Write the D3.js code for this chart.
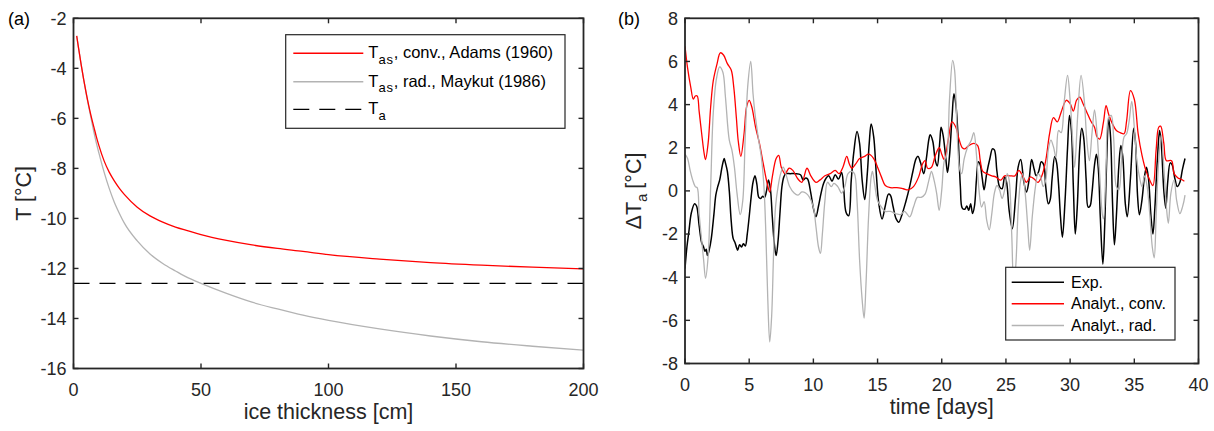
<!DOCTYPE html>
<html><head><meta charset="utf-8">
<script src="https://cdn.jsdelivr.net/npm/d3@7"></script>
<style>
body{margin:0;background:#fff}
svg{display:block}
text{font-family:"Liberation Sans",Arial,Helvetica,sans-serif}
</style>
</head><body>
<svg id="c" width="1214" height="431"></svg>
<script>
// ---------- Panel (a) data ----------
const thickness = [1.25, 2, 3, 4, 5, 6, 7, 8, 9, 10, 12, 14, 16, 18, 20, 25, 30, 35, 40, 45, 50, 60, 70, 80, 90, 100, 120, 140, 160, 180, 200];
const tasConv = [-2.7, -3.2, -3.85, -4.45, -5.0, -5.5, -5.95, -6.35, -6.75, -7.1, -7.7, -8.15, -8.5, -8.8, -9.05, -9.55, -9.9, -10.15, -10.35, -10.5, -10.65, -10.88, -11.06, -11.2, -11.32, -11.45, -11.63, -11.77, -11.87, -11.95, -12.02];
const tasRad = [-2.7, -3.2, -3.85, -4.45, -5.02, -5.55, -6.05, -6.55, -7.0, -7.4, -8.15, -8.8, -9.35, -9.8, -10.2, -10.9, -11.42, -11.8, -12.1, -12.38, -12.6, -13.0, -13.35, -13.62, -13.87, -14.08, -14.42, -14.7, -14.93, -15.11, -15.27];
const taThickness = [0, 200];
const taValue = [-12.6, -12.6];
const xTicksA = [0, 50, 100, 150, 200];
const yTicksA = [-16, -14, -12, -10, -8, -6, -4, -2];

// ---------- Panel (b) data ----------
const expTime = [0,0.15,0.3,0.5,0.75,0.9,1.1,1.3,1.45,1.55,1.65,1.75,1.9,2.05,2.25,2.4,2.55,2.7,2.85,2.95,3.05,3.15,3.3,3.45,3.6,3.75,3.9,4.0,4.1,4.25,4.4,4.55,4.7,4.85,5.0,5.15,5.3,5.45,5.6,5.75,5.9,6.05,6.2,6.35,6.5,6.65,6.8,6.95,7.1,7.25,7.4,7.55,7.7,7.85,8.2,8.6,9.0,9.2,9.4,9.55,9.8,10.0,10.2,10.4,10.6,10.8,11.0,11.2,11.45,11.7,11.95,12.2,12.35,12.55,12.75,12.95,13.15,13.4,13.6,13.8,14.0,14.2,14.35,14.5,14.7,14.9,15.1,15.35,15.6,15.85,16.0,16.2,16.45,16.65,16.9,17.2,17.5,17.75,18.0,18.15,18.35,18.6,18.8,19.0,19.1,19.3,19.5,19.65,19.85,19.95,20.1,20.3,20.45,20.6,20.8,20.95,21.1,21.3,21.45,21.6,21.8,21.95,22.1,22.25,22.4,22.55,22.7,22.85,23.0,23.15,23.3,23.5,23.75,23.95,24.1,24.3,24.5,24.7,24.9,25.05,25.25,25.5,25.75,25.95,26.15,26.4,26.6,26.8,27.0,27.2,27.35,27.55,27.75,27.95,28.1,28.3,28.45,28.6,28.8,28.95,29.1,29.25,29.4,29.6,29.8,29.95,30.1,30.25,30.4,30.55,30.75,30.9,31.05,31.25,31.4,31.55,31.7,31.9,32.05,32.2,32.35,32.55,32.7,32.85,33.0,33.15,33.3,33.45,33.6,33.8,33.95,34.1,34.3,34.45,34.7,34.95,35.1,35.25,35.4,35.6,35.8,35.95,36.1,36.3,36.45,36.6,36.8,36.97,37.1,37.3,37.45,37.6,37.8,37.95,38.15,38.35,38.55,38.75,38.95];
const expDelta = [-3.6,-2.6,-1.9,-1.0,-0.6,-0.7,-1.6,-2.4,-2.6,-2.8,-2.7,-3.0,-2.7,-2.2,-1.1,-0.2,0.2,0.5,1.0,1.3,1.5,1.3,0.9,0.0,-1.4,-2.2,-2.4,-2.6,-2.75,-2.5,-2.6,-2.45,-2.55,-2.0,-1.2,-0.3,0.4,0.7,0.3,-0.3,-0.35,-0.25,-0.3,0.0,0.5,0.1,-1.2,-2.4,-3.0,-2.3,-1.0,0.2,0.65,0.8,0.8,0.8,0.75,0.5,0.6,0.55,-0.1,-0.8,-1.2,-0.7,-0.1,0.35,0.6,0.7,0.45,0.75,0.55,0.85,0.2,-1.0,-1.15,0.5,1.8,2.75,2.2,0.5,-0.4,0.8,2.2,3.1,2.5,0.8,-0.6,-1.3,-0.7,-0.15,-0.2,-0.7,-1.3,-1.45,-1.1,-0.5,0.2,0.9,1.5,1.6,1.3,0.8,1.5,2.4,2.6,2.3,1.4,1.15,2.3,2.95,2.6,1.6,0.85,1.6,3.4,4.5,4.0,2.2,0.2,-0.8,-0.85,-0.7,-0.9,-0.6,-1.05,-0.7,0.5,1.35,1.2,0.6,0.05,0.8,1.5,1.95,1.9,0.9,0.2,0.1,0.65,0.4,-0.9,-1.75,-0.3,1.1,1.45,0.4,-0.05,0.5,1.45,1.0,0.7,0.9,1.35,1.2,0.2,-0.6,-0.4,0.6,1.6,1.3,0.3,-1.2,-2.15,-0.5,2.0,3.5,2.8,0.2,-2.0,-0.8,2.0,2.9,2.5,0.5,-0.75,-0.7,-0.1,1.2,1.7,1.0,-1.2,-3.4,-1.5,1.5,3.35,2.5,-0.5,-2.5,-1.2,1.2,2.1,1.6,-0.6,-1.2,0.6,2.9,2.2,-0.2,-1.1,-0.4,0.7,1.1,0.6,-1.2,-2.0,-0.8,1.5,2.8,2.2,0.0,-0.8,0.4,1.3,1.2,0.6,0.2,0.4,1.0,1.5];

const convTime = [0,0.2,0.45,0.65,0.8,0.95,1.1,1.3,1.5,1.6,1.8,2.0,2.2,2.5,2.75,3.0,3.3,3.6,3.8,4.0,4.15,4.35,4.6,4.8,5.0,5.2,5.5,5.8,6.1,6.4,6.6,6.8,7.1,7.3,7.5,7.8,8.1,8.4,8.8,9.1,9.5,9.8,10.2,10.5,10.9,11.3,11.7,12.0,12.3,12.6,12.8,13.0,13.3,13.6,14.0,14.3,14.7,15.0,15.3,15.6,16.0,16.5,17.0,17.4,17.8,18.2,18.5,18.7,18.9,19.2,19.5,19.8,20.0,20.2,20.5,20.8,21.1,21.3,21.6,21.8,22.1,22.5,22.8,23.0,23.2,23.5,23.9,24.2,24.6,24.9,25.3,25.7,26.0,26.3,26.6,26.9,27.2,27.5,27.8,28.1,28.4,28.7,29.0,29.3,29.7,30.0,30.25,30.5,30.75,31.0,31.3,31.6,31.9,32.1,32.3,32.6,32.8,33.0,33.3,33.6,33.9,34.2,34.4,34.7,35.0,35.3,35.6,35.9,36.2,36.45,36.7,36.9,37.05,37.3,37.5,37.9,38.1,38.4,38.6,38.9];
const convDelta = [6.7,5.7,4.8,4.25,4.4,4.4,3.7,2.65,1.7,1.45,2.2,3.9,5.1,5.9,6.4,6.3,5.9,5.6,4.8,3.4,2.3,1.6,2.65,3.9,4.2,3.9,2.95,2.2,1.25,0.35,-0.05,0.65,1.5,1.65,1.1,0.8,1.05,0.95,0.55,0.4,1.05,0.7,0.4,0.5,0.7,0.8,0.95,0.8,1.1,1.6,1.25,1.05,1.25,1.5,1.6,1.7,1.5,1.1,0.65,0.25,0.15,0.15,0.1,0.05,0.2,0.65,1.25,1.4,1.05,1.1,1.65,2.0,1.7,1.45,2.35,3.2,2.95,2.5,2.0,1.95,2.1,2.2,2.1,1.4,0.9,0.8,0.7,0.65,0.5,0.7,0.7,0.7,0.95,0.7,0.4,0.65,0.55,0.4,0.7,1.4,2.65,3.4,3.2,3.65,4.2,4.05,3.7,4.2,4.35,4.05,3.65,3.25,2.95,2.5,2.4,3.2,3.95,3.55,3.1,2.8,2.7,2.65,3.25,4.65,4.25,2.65,1.65,0.95,0.5,0.25,1.9,2.95,3.0,2.2,1.4,1.4,0.8,0.6,0.55,0.45];

const radTime = [0,0.2,0.4,0.6,0.8,0.95,1.1,1.3,1.45,1.6,1.8,2.0,2.2,2.45,2.7,2.95,3.15,3.45,3.65,3.85,4.05,4.3,4.5,4.7,4.9,5.12,5.3,5.45,5.7,5.95,6.15,6.3,6.45,6.6,6.75,6.9,7.05,7.25,7.45,7.65,7.85,8.15,8.5,8.8,9.1,9.4,9.7,10.0,10.2,10.4,10.55,10.7,10.9,11.1,11.4,11.6,11.9,12.2,12.45,12.7,13.0,13.2,13.4,13.6,13.8,13.95,14.1,14.3,14.5,14.6,14.8,15.0,15.3,15.6,16.0,16.4,16.8,17.1,17.5,17.8,18.1,18.4,18.7,19.0,19.2,19.4,19.6,19.8,20.0,20.2,20.4,20.6,20.85,21.0,21.2,21.4,21.55,21.75,22.0,22.3,22.5,22.7,22.9,23.1,23.3,23.5,23.7,23.9,24.1,24.3,24.5,24.7,24.9,25.1,25.25,25.45,25.6,25.75,25.95,26.15,26.3,26.5,26.7,26.85,27.05,27.3,27.5,27.7,27.9,28.1,28.3,28.5,28.7,28.9,29.1,29.3,29.55,29.8,30.0,30.2,30.35,30.6,30.85,31.1,31.3,31.5,31.7,31.9,32.1,32.3,32.5,32.6,32.8,33.0,33.2,33.4,33.6,33.8,34.0,34.2,34.4,34.6,34.8,35.0,35.2,35.4,35.6,35.8,36.0,36.2,36.4,36.55,36.7,36.9,37.1,37.3,37.5,37.65,37.85,38.1,38.3,38.55,38.75,38.95];
const radDelta = [1.7,1.5,0.95,0.5,0.2,0.15,-1.05,-2.3,-3.2,-4.05,-3.05,0.2,3.6,5.2,5.75,5.5,4.35,2.35,1.9,1.1,-0.1,-1.1,-0.45,2.65,4.95,6.0,4.5,3.6,2.5,1.55,0.2,-2.0,-5.05,-7.0,-5.8,-2.9,-0.75,0.2,0.8,1.1,0.8,0.2,-0.1,-0.2,-0.05,-0.1,-0.3,-0.75,-1.65,-2.6,-2.9,-2.0,-0.45,0.4,0.2,0.35,0.2,-0.1,0.2,0.8,0.9,0.8,-0.45,-3.2,-5.05,-5.9,-4.3,-1.2,0.65,0.9,0.2,-0.45,-0.75,-0.95,-0.95,-1.05,-1.1,-0.95,-1.2,-0.75,-0.3,-0.3,-0.15,0.5,0.9,0.5,-0.1,-0.9,0.05,1.4,1.7,4.2,6.05,5.6,2.65,1.0,0.8,1.5,2.0,2.35,2.7,1.7,0.05,-0.75,-0.5,-1.35,-1.8,-1.05,-0.1,0.25,0.05,-0.35,0.05,0.8,0.5,-2.0,-4.2,-3.6,-0.9,0.5,0.8,-0.1,-1.65,-2.75,-1.2,0.2,0.8,0.65,0.2,0.5,1.9,2.35,2.05,1.55,2.8,2.7,4.2,5.35,4.2,2.35,1.1,3.6,5.35,4.2,2.35,1.4,2.65,3.75,2.65,0.8,-1.05,-1.3,1.1,3.4,3.5,2.35,0.2,0.05,1.4,2.5,2.65,3.25,4.15,2.95,1.4,0.65,0.2,0.7,0.2,-1.05,-2.6,-3.1,-1.2,1.4,2.6,1.1,-0.75,-1.5,-0.1,0.5,-0.45,-1.05,-0.75,-0.2];
const xTicksB = [0, 5, 10, 15, 20, 25, 30, 35, 40];
const yTicksB = [-8, -6, -4, -2, 0, 2, 4, 6, 8];

// ---------- drawing ----------
const svg = d3.select("#c");
const AX = "#262626";
const FS_TICK = 18, FS_LAB = 21.5, FS_LEG = 16;

function frame(x, y, xt, yt) {
  const [x0, x1] = x.range(), [y0, y1] = y.range();
  const g = svg.append("g");
  xt.forEach(v => {
    const px = x(v);
    g.append("line").attr("x1", px).attr("x2", px).attr("y1", y0).attr("y2", y0 - 5).attr("stroke", AX).attr("stroke-width", 1.4);
    g.append("line").attr("x1", px).attr("x2", px).attr("y1", y1).attr("y2", y1 + 5).attr("stroke", AX).attr("stroke-width", 1.4);
    g.append("text").attr("x", px).attr("y", y0 + 27.5).attr("text-anchor", "middle")
      .attr("font-size", FS_TICK).attr("fill", AX).text(String(v));
  });
  yt.forEach(v => {
    const py = y(v);
    g.append("line").attr("x1", x0).attr("x2", x0 + 5).attr("y1", py).attr("y2", py).attr("stroke", AX).attr("stroke-width", 1.4);
    g.append("line").attr("x1", x1).attr("x2", x1 - 5).attr("y1", py).attr("y2", py).attr("stroke", AX).attr("stroke-width", 1.4);
    g.append("text").attr("x", x0 - 7).attr("y", py).attr("dy", "0.35em").attr("text-anchor", "end")
      .attr("font-size", FS_TICK).attr("fill", AX).text(String(v));
  });
  return g;
}
function box(x, y) {
  const [x0, x1] = x.range(), [y0, y1] = y.range();
  svg.append("rect").attr("x", x0).attr("y", y1).attr("width", x1 - x0).attr("height", y0 - y1)
    .attr("fill", "none").attr("stroke", AX).attr("stroke-width", 1.8);
}

// Panel (a)
const xA = d3.scaleLinear().domain([0, 200]).range([73.5, 583.5]);
const yA = d3.scaleLinear().domain([-16, -2]).range([368.5, 18.3]);
const lineA = d3.line().x(d => xA(d[0])).y(d => yA(d[1])).curve(d3.curveMonotoneX);
svg.append("path").attr("d", lineA(d3.zip(taThickness, taValue))).attr("fill", "none")
  .attr("stroke", "#000").attr("stroke-width", 1.2).attr("stroke-dasharray", "16,10");
svg.append("path").attr("d", lineA(d3.zip(thickness, tasRad))).attr("fill", "none")
  .attr("stroke", "#b3b3b3").attr("stroke-width", 1.3);
svg.append("path").attr("d", lineA(d3.zip(thickness, tasConv))).attr("fill", "none")
  .attr("stroke", "#ff0000").attr("stroke-width", 1.3);
frame(xA, yA, xTicksA, yTicksA);
box(xA, yA);
svg.append("text").attr("x", (73.5 + 583.5) / 2).attr("y", 419).attr("text-anchor", "middle")
  .attr("font-size", FS_LAB).attr("fill", AX).text("ice thickness [cm]");
svg.append("text").attr("transform", "translate(31,193.4) rotate(-90)").attr("text-anchor", "middle")
  .attr("font-size", FS_LAB).attr("fill", AX).text("T [°C]");
svg.append("text").attr("x", 8).attr("y", 25).attr("font-size", FS_TICK).attr("fill", "#000").text("(a)");

// legend (a)
const legA = svg.append("g");
legA.append("rect").attr("x", 285.7).attr("y", 34.7).attr("width", 279.3).attr("height", 93.6)
  .attr("fill", "#fff").attr("stroke", AX).attr("stroke-width", 1.2);
const legAItems = [
  {c: "#ff0000", d: null, main: "T", sub: "as", rest: ", conv., Adams (1960)", y: 53.3},
  {c: "#b3b3b3", d: null, main: "T", sub: "as", rest: ", rad., Maykut (1986)", y: 81.7},
  {c: "#000", d: "16,10", main: "T", sub: "a", rest: "", y: 109.3}
];
legAItems.forEach(it => {
  legA.append("line").attr("x1", 293.3).attr("x2", 363.3).attr("y1", it.y).attr("y2", it.y)
    .attr("stroke", it.c).attr("stroke-width", it.d ? 1.2 : 1.5).attr("stroke-dasharray", it.d);
  const t = legA.append("text").attr("x", 368.3).attr("y", it.y + 5).attr("font-size", 16.5).attr("fill", "#000");
  t.append("tspan").text(it.main);
  t.append("tspan").attr("dy", 5.5).attr("font-size", 13).attr("letter-spacing", 0.8).text(it.sub);
  if (it.rest) t.append("tspan").attr("dy", -5.5).text(it.rest);
});

// Panel (b)
const xB = d3.scaleLinear().domain([0, 40]).range([685, 1198.5]);
const yB = d3.scaleLinear().domain([-8, 8]).range([363.5, 18.3]);
const lineB = d3.line().x(d => xB(d[0])).y(d => yB(d[1])).curve(d3.curveCatmullRom.alpha(0.5));
svg.append("clipPath").attr("id", "clipB").append("rect")
  .attr("x", 685).attr("y", 18.3).attr("width", 513.5).attr("height", 345.2);
const gB = svg.append("g").attr("clip-path", "url(#clipB)");
gB.append("path").attr("d", lineB(d3.zip(expTime, expDelta))).attr("fill", "none")
  .attr("stroke", "#000").attr("stroke-width", 1.5);
gB.append("path").attr("d", lineB(d3.zip(convTime, convDelta))).attr("fill", "none")
  .attr("stroke", "#ff0000").attr("stroke-width", 1.3);
gB.append("path").attr("d", lineB(d3.zip(radTime, radDelta))).attr("fill", "none")
  .attr("stroke", "#b3b3b3").attr("stroke-width", 1.3);
frame(xB, yB, xTicksB, yTicksB);
box(xB, yB);
svg.append("text").attr("x", (685 + 1198.5) / 2).attr("y", 414).attr("text-anchor", "middle")
  .attr("font-size", FS_LAB).attr("fill", AX).text("time [days]");
const ylB = svg.append("text").attr("transform", "translate(641,191) rotate(-90)").attr("text-anchor", "middle")
  .attr("font-size", FS_LAB).attr("fill", AX);
ylB.append("tspan").text("ΔT");
ylB.append("tspan").attr("dy", 6).attr("font-size", 15).text("a");
ylB.append("tspan").attr("dy", -6).attr("dx", 5).text("[°C]");
svg.append("text").attr("x", 618).attr("y", 25).attr("font-size", FS_TICK).attr("fill", "#000").text("(b)");

// legend (b)
const legB = svg.append("g");
legB.append("rect").attr("x", 1005.7).attr("y", 267.3).attr("width", 169.3).attr("height", 72.7)
  .attr("fill", "#fff").attr("stroke", AX).attr("stroke-width", 1.2);
const legBItems = [
  {c: "#000", label: "Exp.", y: 282.3},
  {c: "#ff0000", label: "Analyt., conv.", y: 303.8},
  {c: "#b3b3b3", label: "Analyt., rad.", y: 325.5}
];
legBItems.forEach(it => {
  legB.append("line").attr("x1", 1011.7).attr("x2", 1064).attr("y1", it.y).attr("y2", it.y)
    .attr("stroke", it.c).attr("stroke-width", 1.5);
  legB.append("text").attr("x", 1071).attr("y", it.y + 5.5).attr("font-size", FS_LEG).attr("fill", "#000").text(it.label);
});
</script>
</body></html>
